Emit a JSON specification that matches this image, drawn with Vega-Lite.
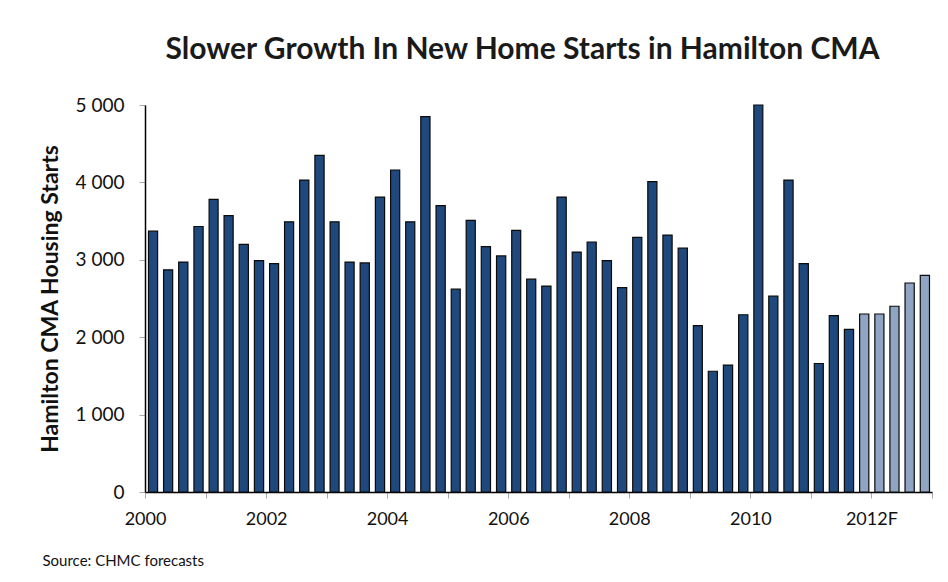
{
  "$schema": "https://vega.github.io/schema/vega-lite/v6.json",
  "autosize": "none",
  "width": 787,
  "height": 387,
  "padding": {"left": 145, "top": 105, "right": 16, "bottom": 90},
  "background": "white",
  "title": {
    "text": "Slower Growth In New Home Starts in Hamilton CMA",
    "font": "Lato",
    "fontSize": 30,
    "fontWeight": "bold",
    "color": "#1a1a1a",
    "anchor": "middle",
    "dx": -16,
    "offset": 31
  },
  "data": {
    "values": [
      {"date": "2000-01-01", "starts": 3370, "type": "Actual"},
      {"date": "2000-04-01", "starts": 2870, "type": "Actual"},
      {"date": "2000-07-01", "starts": 2970, "type": "Actual"},
      {"date": "2000-10-01", "starts": 3430, "type": "Actual"},
      {"date": "2001-01-01", "starts": 3780, "type": "Actual"},
      {"date": "2001-04-01", "starts": 3570, "type": "Actual"},
      {"date": "2001-07-01", "starts": 3200, "type": "Actual"},
      {"date": "2001-10-01", "starts": 2990, "type": "Actual"},
      {"date": "2002-01-01", "starts": 2950, "type": "Actual"},
      {"date": "2002-04-01", "starts": 3490, "type": "Actual"},
      {"date": "2002-07-01", "starts": 4030, "type": "Actual"},
      {"date": "2002-10-01", "starts": 4350, "type": "Actual"},
      {"date": "2003-01-01", "starts": 3490, "type": "Actual"},
      {"date": "2003-04-01", "starts": 2970, "type": "Actual"},
      {"date": "2003-07-01", "starts": 2960, "type": "Actual"},
      {"date": "2003-10-01", "starts": 3810, "type": "Actual"},
      {"date": "2004-01-01", "starts": 4160, "type": "Actual"},
      {"date": "2004-04-01", "starts": 3490, "type": "Actual"},
      {"date": "2004-07-01", "starts": 4850, "type": "Actual"},
      {"date": "2004-10-01", "starts": 3700, "type": "Actual"},
      {"date": "2005-01-01", "starts": 2620, "type": "Actual"},
      {"date": "2005-04-01", "starts": 3510, "type": "Actual"},
      {"date": "2005-07-01", "starts": 3170, "type": "Actual"},
      {"date": "2005-10-01", "starts": 3050, "type": "Actual"},
      {"date": "2006-01-01", "starts": 3380, "type": "Actual"},
      {"date": "2006-04-01", "starts": 2750, "type": "Actual"},
      {"date": "2006-07-01", "starts": 2660, "type": "Actual"},
      {"date": "2006-10-01", "starts": 3810, "type": "Actual"},
      {"date": "2007-01-01", "starts": 3100, "type": "Actual"},
      {"date": "2007-04-01", "starts": 3230, "type": "Actual"},
      {"date": "2007-07-01", "starts": 2990, "type": "Actual"},
      {"date": "2007-10-01", "starts": 2640, "type": "Actual"},
      {"date": "2008-01-01", "starts": 3290, "type": "Actual"},
      {"date": "2008-04-01", "starts": 4010, "type": "Actual"},
      {"date": "2008-07-01", "starts": 3320, "type": "Actual"},
      {"date": "2008-10-01", "starts": 3150, "type": "Actual"},
      {"date": "2009-01-01", "starts": 2150, "type": "Actual"},
      {"date": "2009-04-01", "starts": 1560, "type": "Actual"},
      {"date": "2009-07-01", "starts": 1640, "type": "Actual"},
      {"date": "2009-10-01", "starts": 2290, "type": "Actual"},
      {"date": "2010-01-01", "starts": 5000, "type": "Actual"},
      {"date": "2010-04-01", "starts": 2530, "type": "Actual"},
      {"date": "2010-07-01", "starts": 4030, "type": "Actual"},
      {"date": "2010-10-01", "starts": 2950, "type": "Actual"},
      {"date": "2011-01-01", "starts": 1660, "type": "Actual"},
      {"date": "2011-04-01", "starts": 2280, "type": "Actual"},
      {"date": "2011-07-01", "starts": 2100, "type": "Actual"},
      {"date": "2011-10-01", "starts": 2300, "type": "Forecast"},
      {"date": "2012-01-01", "starts": 2300, "type": "Forecast"},
      {"date": "2012-04-01", "starts": 2400, "type": "Forecast"},
      {"date": "2012-07-01", "starts": 2700, "type": "Forecast"},
      {"date": "2012-10-01", "starts": 2800, "type": "Forecast"}
    ]
  },
  "mark": {"type": "bar", "stroke": "#0a0a0a", "strokeWidth": 1.2, "width": {"band": 0.67}},
  "encoding": {
    "x": {
      "field": "date",
      "timeUnit": "utcyearquarter",
      "type": "temporal",
      "scale": {"type": "utc", "domain": [{"year": 2000, "month": 1, "date": 1, "utc": true}, {"year": 2013, "month": 1, "date": 1, "utc": true}]},
      "axis": {
        "values": [
          {"year": 2000, "utc": true}, {"year": 2001, "utc": true}, {"year": 2002, "utc": true},
          {"year": 2003, "utc": true}, {"year": 2004, "utc": true}, {"year": 2005, "utc": true},
          {"year": 2006, "utc": true}, {"year": 2007, "utc": true}, {"year": 2008, "utc": true},
          {"year": 2009, "utc": true}, {"year": 2010, "utc": true}, {"year": 2011, "utc": true},
          {"year": 2012, "utc": true}, {"year": 2013, "utc": true}
        ],
        "labelExpr": "utcyear(datum.value) % 2 == 0 ? (utcyear(datum.value) == 2012 ? '2012F' : '' + utcyear(datum.value)) : ''",
        "labelFont": "Lato",
        "labelFontSize": 18,
        "labelColor": "#111111",
        "labelPadding": 12,
        "labelOverlap": false,
        "labelFlush": false,
        "grid": false,
        "domainColor": "#000000",
        "domainWidth": 1.5,
        "tickColor": "#aaaaaa",
        "tickSize": 6,
        "title": "Source: CHMC forecasts",
        "titleFont": "Lato",
        "titleFontSize": 15,
        "titleFontWeight": "normal",
        "titleColor": "#111111",
        "titleAnchor": "start",
        "titleAlign": "left",
        "titleX": -103,
        "titleY": 61
      }
    },
    "y": {
      "field": "starts",
      "type": "quantitative",
      "scale": {"domain": [0, 5000]},
      "axis": {
        "values": [0, 1000, 2000, 3000, 4000, 5000],
        "labelExpr": "replace(format(datum.value, ','), ',', ' ')",
        "labelFont": "Lato",
        "labelFontSize": 19,
        "labelColor": "#111111",
        "labelPadding": 15,
        "grid": false,
        "domainColor": "#000000",
        "domainWidth": 1.5,
        "tickColor": "#aaaaaa",
        "tickSize": 6,
        "title": "Hamilton CMA Housing Starts",
        "titleFont": "Lato",
        "titleFontSize": 23,
        "titleFontWeight": "bold",
        "titleColor": "#111111",
        "titlePadding": 13
      }
    },
    "color": {
      "field": "type",
      "type": "nominal",
      "scale": {"domain": ["Actual", "Forecast"], "range": ["#1f497d", "#90a5c3"]},
      "legend": null
    }
  },
  "config": {"view": {"stroke": null}}
}
